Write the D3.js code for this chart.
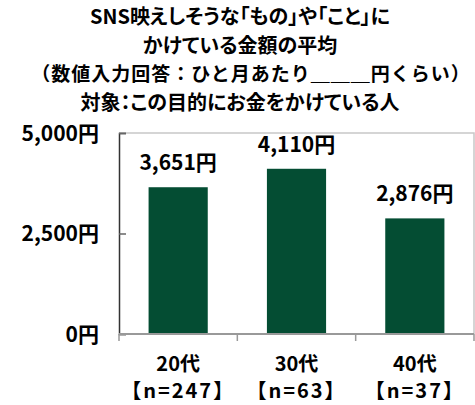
<!DOCTYPE html>
<html>
<head>
<meta charset="utf-8">
<script src="https://cdn.jsdelivr.net/npm/d3@7"></script>
<style>
  body { margin: 0; background: #fff; }
  svg text { font-family: "Noto Sans CJK JP", "Noto Sans", sans-serif; font-weight: bold; fill: #000; font-feature-settings: "palt"; }
  svg text.full { font-feature-settings: normal; letter-spacing: 1px; }
</style>
</head>
<body>
<svg id="chart" width="475" height="405"></svg>
<script>
const titleLines = [
  "SNS映えしそうな「もの」や「こと」に",
  "かけている金額の平均",
  "（数値入力回答：ひと月あたり＿＿＿円くらい）",
  "対象：この目的にお金をかけている人"
];
const ages = ["20代", "30代", "40代"];
const sampleSizes = ["【n=247】", "【n=63】", "【n=37】"];
const amounts = [3651, 4110, 2876];
const yTicks = [0, 2500, 5000];

const svg = d3.select("#chart");
const margin = { left: 119, right: 1, top: 133, bottom: 71 };
const width = +svg.attr("width");
const height = +svg.attr("height");

const x = d3.scaleBand()
  .domain(ages)
  .range([margin.left, width - margin.right])
  .paddingInner(0.5)
  .paddingOuter(0.25);

const y = d3.scaleLinear()
  .domain([0, 5000])
  .range([height - margin.bottom, margin.top]);

const fmt = d3.format(",");

// タイトル
svg.append("g").selectAll("text")
  .data(titleLines)
  .enter()
  .append("text")
  .attr("class", (d, i) => i === 2 ? "full" : null)
  .attr("x", (d, i) => i === 2 ? 251 : 240)
  .attr("y", (d, i) => 24 + i * 28.5)
  .attr("text-anchor", "middle")
  .style("font-size", (d, i) => i === 2 ? "19px" : "20px")
  .text(d => d);

// 枠線（上・右）
svg.append("path")
  .attr("d", `M${x.range()[0]},${y(5000)}H${x.range()[1]}V${y(0)}`)
  .attr("fill", "none")
  .attr("stroke", "#c8c8c8")
  .attr("stroke-width", 1.5);

// 棒
svg.append("g").selectAll("rect")
  .data(amounts)
  .enter()
  .append("rect")
  .attr("x", (d, i) => x(ages[i]))
  .attr("width", x.bandwidth())
  .attr("y", d => y(d))
  .attr("height", d => y(0) - y(d))
  .attr("fill", "#044d33");

// 値ラベル
svg.append("g").selectAll("text")
  .data(amounts)
  .enter()
  .append("text")
  .attr("x", (d, i) => x(ages[i]) + x.bandwidth() / 2)
  .attr("y", d => y(d) - 17)
  .attr("text-anchor", "middle")
  .style("font-size", "21px")
  .text(d => fmt(d) + "円");

// Y軸
const yAxis = svg.append("g")
  .attr("transform", `translate(${margin.left},0)`)
  .call(d3.axisRight(y).tickValues(yTicks).tickSize(7).tickFormat(""));
yAxis.select(".domain").attr("stroke", "#333").attr("stroke-width", 1.5);
yAxis.selectAll(".tick line").attr("stroke", "#666").attr("stroke-width", 1.5);

svg.append("g").selectAll("text")
  .data(yTicks)
  .enter()
  .append("text")
  .attr("x", margin.left - 20)
  .attr("y", d => y(d))
  .attr("dy", "0.36em")
  .attr("text-anchor", "end")
  .style("font-size", "21px")
  .text(d => fmt(d) + "円");

// X軸
const step = x.step();
const xAxis = svg.append("g");
xAxis.append("line")
  .attr("x1", x.range()[0]).attr("x2", x.range()[1])
  .attr("y1", y(0)).attr("y2", y(0))
  .attr("stroke", "#999").attr("stroke-width", 2);
xAxis.selectAll("line.tk")
  .data(d3.range(ages.length + 1))
  .enter()
  .append("line")
  .attr("class", "tk")
  .attr("x1", i => x.range()[0] + i * step)
  .attr("x2", i => x.range()[0] + i * step)
  .attr("y1", y(0))
  .attr("y2", y(0) + 7)
  .attr("stroke", "#999")
  .attr("stroke-width", 1.5);

const cats = svg.append("g").selectAll("g")
  .data(ages)
  .enter()
  .append("g")
  .attr("transform", d => `translate(${x(d) + x.bandwidth() / 2},0)`);
cats.append("text")
  .attr("y", y(0) + 37)
  .attr("text-anchor", "middle")
  .style("font-size", "20px")
  .text(d => d);
cats.append("text")
  .attr("class", "full")
  .attr("y", y(0) + 64)
  .attr("text-anchor", "middle")
  .style("font-size", "20px")
  .style("letter-spacing", "2px")
  .text((d, i) => sampleSizes[i]);
</script>
</body>
</html>
